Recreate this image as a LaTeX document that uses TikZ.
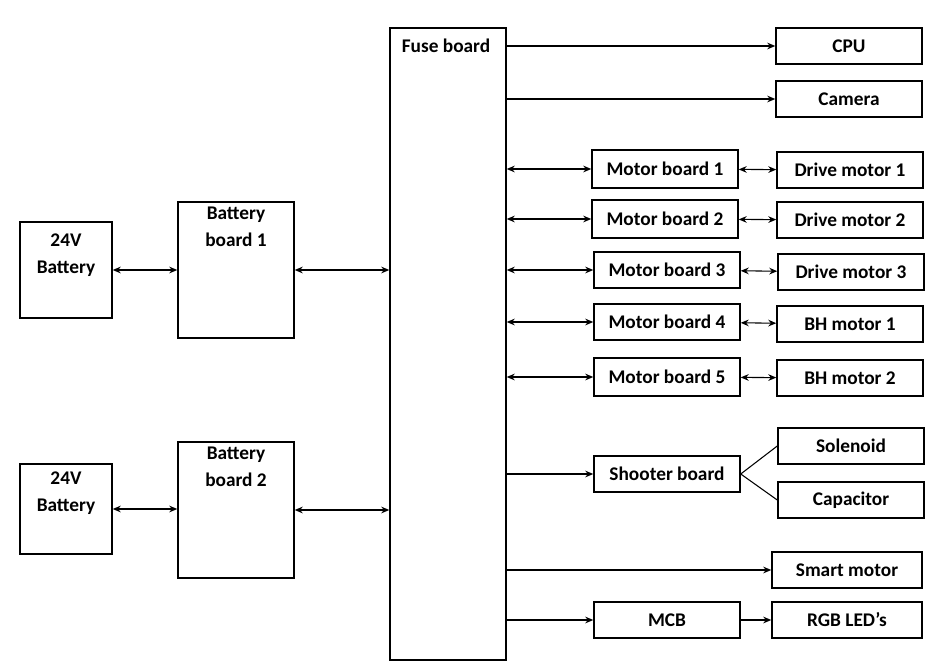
\documentclass[tikz,border=0pt]{standalone}
\usepackage{fontspec}
\setmainfont{Carlito}
\usetikzlibrary{arrows.meta}

\begin{document}
\begin{tikzpicture}[
			x=0.75pt, y=-0.75pt,
			txt/.style={font=\bfseries\fontsize{14.5}{20}\selectfont, align=center},
			blk/.style={
				draw,
				line width=1.1pt,
				txt,
				inner sep=0pt
			},
			bat/.style={blk, minimum width=69pt, minimum height=72pt},
			bboard/.style={blk, minimum width=87pt, minimum height=102pt},
			unit/.style={blk, minimum width=109.5pt, minimum height=27pt},
			link/.style={line width=0.8pt, -{Stealth[length=6pt,width=5pt]}},
			dlink/.style={line width=0.8pt, {Stealth[length=6pt,width=5pt]}-{Stealth[length=6pt,width=5pt]}}
			]
			\useasboundingbox (0,0) rectangle (951,671);
			% Batteries
			\node[bat, label={[txt, anchor=north, yshift=-6pt]north:24V\\Battery}] (bat1) at (66,270) {};
			\node[bat, minimum height=67.5pt, label={[txt, anchor=north, yshift=-3pt]north:24V\\Battery}] (bat2) at (66,509) {};
			\node[bboard, label={[txt, anchor=north, yshift=-1pt]north:Battery\\board 1}] (bb1) at (236,270) {};
			\node[bboard, label={[txt, anchor=north, yshift=-1pt]north:Battery\\board 2}] (bb2) at (236,510) {};
			
			% Fuse board
			\node[blk, minimum width=87pt, minimum height=474pt] (fuse) at (448,344) {};
			\node[txt] (fuselbl) at (446,46) {Fuse board};
			
			% Units
			\node[unit] (cpu) at (849,46) {CPU};
			\node[unit] (cam) at (849,99) {Camera};
			\node[unit, minimum height=28.5pt] (mb1) at (665,169) {Motor board 1};
			\node[unit] (dm1) at (850,170) {Drive motor 1};
			\node[unit, minimum height=28.5pt] (mb2) at (665,219) {Motor board 2};
			\node[unit] (dm2) at (850,220) {Drive motor 2};
			\node[unit] (mb3) at (667,270) {Motor board 3};
			\node[unit] (dm3) at (851,272) {Drive motor 3};
			\node[unit] (mb4) at (667,322) {Motor board 4};
			\node[unit] (bh1) at (850,324) {BH motor 1};
			\node[unit, minimum height=28.5pt] (mb5) at (667,377) {Motor board 5};
			\node[unit] (bh2) at (850,378) {BH motor 2};
			\node[unit] (shoot) at (667,474) {Shooter board};
			\node[unit] (sol) at (851,446) {Solenoid};
			\node[unit] (cap) at (851,500) {Capacitor};
			\node[unit, minimum width=112.5pt] (smart) at (847,570) {Smart motor};
			\node[unit] (mcb) at (667,620) {MCB};
			\node[unit, minimum width=112.5pt] (rgb) at (847,620) {RGB LED’s};
			
			% Connections
			\draw[dlink] (bat1) -- (bb1);
			\draw[dlink] (bat2) -- (bb2.west |- bat2);
			\draw[dlink] (bb1) -- (fuse.west |- bb1);
			\draw[dlink] (bb2) -- (fuse.west |- bb2);
			\draw[link] (fuse.east |- cpu) -- (cpu);
			\draw[link] (fuse.east |- cam) -- (cam);
			\foreach \m/\d in {mb1/dm1, mb2/dm2, mb3/dm3, mb4/bh1, mb5/bh2}{
				\draw[dlink] (fuse.east |- \m) -- (\m);
				\draw[dlink] (\m) -- (\d);
			}
			\draw[link] (fuse.east |- shoot) -- (shoot);
			\draw[line width=0.8pt] (shoot.east) -- (sol.west);
			\draw[line width=0.8pt] (shoot.east) -- (cap.west);
			\draw[link] (fuse.east |- smart) -- (smart);
			\draw[link] (fuse.east |- mcb) -- (mcb);
			\draw[link] (mcb) -- (rgb);
		\end{tikzpicture}
\end{document}
